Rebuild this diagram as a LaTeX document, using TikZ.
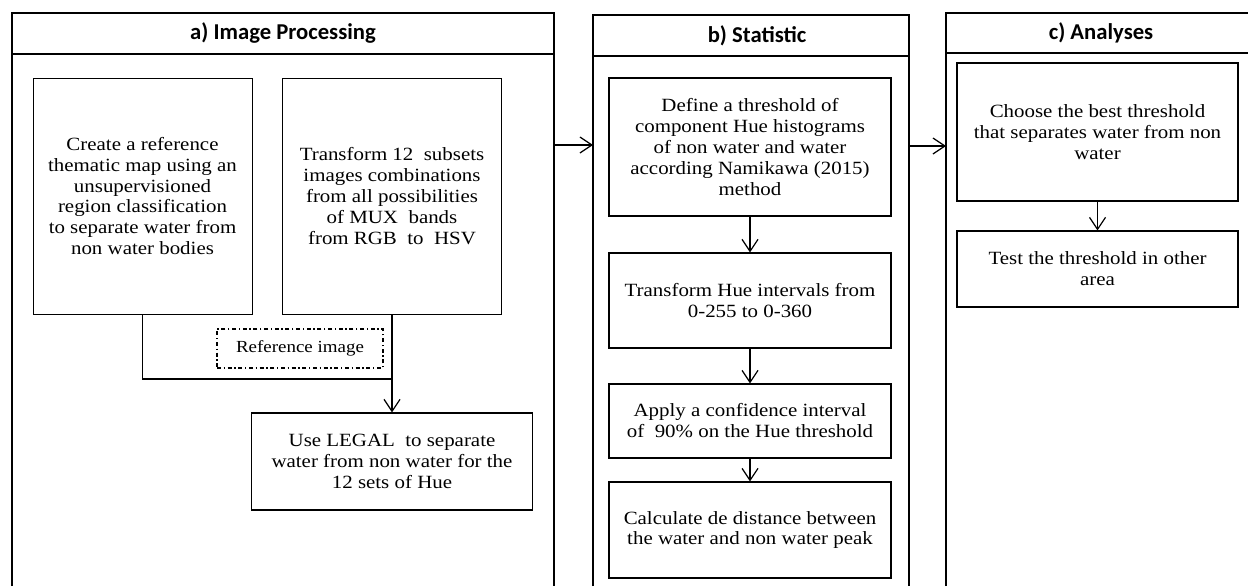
\documentclass[tikz,border=0pt]{standalone}
\usepackage{fontspec}
\setmainfont{Liberation Serif}[FakeStretch=1.12]
\newfontfamily\headfont{Carlito}
\usetikzlibrary{arrows.meta}
\newcommand{\bodysize}{\fontsize{14pt}{15.7pt}\selectfont}

\begin{document}
\begin{tikzpicture}[x=0.75pt, y=-0.75pt,
        panel/.style={line width=1.8pt},
        headtext/.style={font=\headfont\bfseries\fontsize{17pt}{20pt}\selectfont},
        procbox/.style={draw, line width=0.9pt, align=center, inner sep=2pt, font=\bodysize},
        flowarrow/.style={-{Straight Barb[length=9pt,width=12pt]}, line width=0.9pt}]
    \useasboundingbox (0,0) rectangle (1248,586);
    % a) image processing
    \draw[panel] (12,586) -- (12,13) -- (554,13) -- (554,586);
    \draw[panel] (12,54) -- (554,54);
    \node[headtext] (heada) at (283,33.5) {a) Image Processing};
    \node[procbox, line width=0.6pt, minimum width=164.25pt, minimum height=177pt] (create) 
        at (142.5,196) {Create a reference\\thematic map using an\\unsupervisioned\\region classification\\to separate water from\\non water bodies};
    \node[procbox, line width=0.6pt, minimum width=164.25pt, minimum height=177pt] (transform) 
        at (392,196) {Transform 12~ subsets\\images combinations\\from all possibilities\\of MUX~ bands\\from RGB~ to~ HSV};
    \node[draw, line width=0.8pt, dash pattern=on 3pt off 2pt on 1pt off 2pt, 
        minimum width=124.5pt, minimum height=29.25pt, 
        font=\fontsize{12.7pt}{15pt}\selectfont] (refimg) at (300,348.5) {Reference image};
    \node[procbox, minimum width=210.75pt, minimum height=72.75pt] (legal) 
        at (392,461.5) {Use LEGAL~ to separate\\water from non water for the\\12 sets of Hue};
    \coordinate (merge) at (transform.south |- 0,379);
    \draw[line width=0.8pt] (create.south) |- (merge);
    \draw[flowarrow] (transform.south) -- (legal.north);
    % b) statistic
    \draw[panel] (593,586) -- (593,15) -- (909,15) -- (909,586);
    \draw[panel] (593,56) -- (909,56);
    \node[headtext] (headb) at (757,35.5) {b) Statistic};
    \node[procbox, minimum width=211.5pt, minimum height=103.5pt] (define) 
        at (750,147) {Define a threshold of\\component Hue histograms\\of non water and water\\according Namikawa (2015)\\method};
    \node[procbox, minimum width=211.5pt, minimum height=71.25pt] (hue) 
        at (750,300.5) {Transform Hue intervals from\\0-255 to 0-360};
    \node[procbox, minimum width=211.5pt, minimum height=55.5pt] (confid) 
        at (750,421) {Apply a confidence interval\\of~ 90\% on the Hue threshold};
    \node[procbox, minimum width=211.5pt, minimum height=72pt] (peak) 
        at (750,530) {Calculate de distance between\\the water and non water peak};
    \foreach \u/\v in {define/hue,hue/confid,confid/peak}
        \draw[flowarrow] (\u) -- (\v);
    % c) analyses
    \draw[panel] (946,586) -- (946,13) -- (1260,13);
    \draw[panel] (946,53) -- (1260,53);
    \node[headtext] (headc) at (1101,33) {c) Analyses};
    \node[procbox, minimum width=210.75pt, minimum height=103.5pt] (choose) 
        at (1097.5,132) {Choose the best threshold\\that separates water from non\\water};
    \node[procbox, minimum width=210.75pt, minimum height=57pt] (test) 
        at (1097.5,269) {Test the threshold in other\\area};
    \draw[flowarrow] (choose) -- (test);
    % between panels
    \coordinate (aright) at (554,145);
    \coordinate (bleft) at (593,145);
    \coordinate (bright) at (909,146);
    \coordinate (cleft) at (946,146);
    \draw[flowarrow] (aright) -- (bleft);
    \draw[flowarrow] (bright) -- (cleft);
\end{tikzpicture}
\end{document}
